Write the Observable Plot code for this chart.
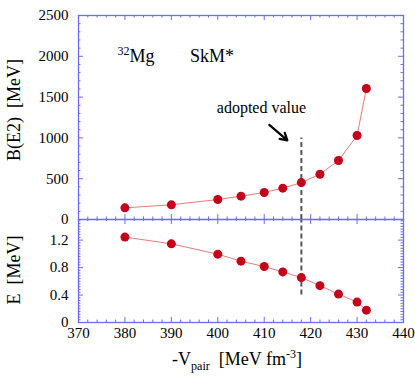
<!DOCTYPE html>
<html><head><meta charset="utf-8">
<script src="https://cdn.jsdelivr.net/npm/d3@7"></script>
<script src="https://cdn.jsdelivr.net/npm/@observablehq/plot@0.6"></script>
<style>
body{margin:0;background:#fff;}
#chart{position:relative;width:415px;height:376px;font-family:'Liberation Serif','Times New Roman','DejaVu Serif',serif;color:#000;}
#chart svg{position:absolute;left:0;}
#chart svg text{font-family:'Liberation Serif','Times New Roman','DejaVu Serif',serif;}
.lbl{position:absolute;font-size:18px;line-height:18px;white-space:pre;}
.rot{transform:translate(-50%,-50%) rotate(-90deg);}
sub,sup{font-size:12px;line-height:0;}
</style></head><body><div id="chart"></div>
<script>
// data
const vpair  = [380, 390, 400, 405, 410, 414, 418, 422, 426, 430, 432];
const be2    = [143, 180, 245, 286, 331, 384, 452, 555, 723, 1029, 1605];
const energy = [1.244, 1.146, 0.995, 0.893, 0.815, 0.737, 0.654, 0.537, 0.414, 0.297, 0.180];
const adoptedV = 418;
const adoptedTopEnd = 1000;     // dashed line top (B(E2) units)
const adoptedBottomEnd = 0.4;   // dashed line bottom (E units)
const arrowFrom = {x: 411.1, y: 1160};
const arrowTo   = {x: 415.0, y: 970};
const adoptedLabel = {x: 409.4, y: 1311, text: "adopted value"};
const nucleusLabel = {x: 381.0, y: 1925, mass: "32", element: "Mg"};
const forceLabel   = {x: 394.0, y: 1925, text: "SkM*"};
const xDomain = [370, 440];
const xMajor = [370, 380, 390, 400, 410, 420, 430, 440];
const topDomain = [0, 2500];
const topMajor = [0, 500, 1000, 1500, 2000, 2500];
const botDomain = [0, 1.5];
const botMajor = [0, 0.4, 0.8, 1.2];

const xMinor = d3.range(370, 440.01, 2).filter(v => v % 10 !== 0);
const topMinor = d3.range(0, 2500.01, 100).filter(v => v % 500 !== 0);
const botMinor = d3.range(0, 60, 1).map(i => +(i * 0.04).toFixed(2)).filter(v => v < 1.5 && Math.round(v * 100) % 40 !== 0);

const rows = vpair.map((v, i) => ({v, b: be2[i], e: energy[i]}));
const FC = "#6b6bff";
const LINE = "#e87a7a";
const DOT = "#c4001a";
const font = "'Liberation Serif', 'Times New Roman', 'DejaVu Serif', serif";
const ML = 78, MR = 12, W = 415, PW = W - ML - MR;

function ticks(dim, anchor, values, size, PH) {
  const o = {stroke: FC, strokeWidth: 1};
  if (dim === "x") {
    if (anchor === "top") o.insetBottom = PH - size; else o.insetTop = PH - size;
    return Plot.tickX(values, {x: d => d, ...o});
  } else {
    if (anchor === "left") o.insetRight = PW - size; else o.insetLeft = PW - size;
    return Plot.tickY(values, {y: d => d, ...o});
  }
}
function labels(dim, anchor, values, pad) {
  const f = dim === "x" ? Plot.axisX : Plot.axisY;
  return f(values, {anchor, tickSize: 0, tickPadding: pad, label: null, fontSize: 15, fontFamily: font, tickFormat: d => String(d), fill: "#000"});
}

const TH = 204;
const topPlot = Plot.plot({
  width: W, height: 219,
  marginLeft: ML, marginRight: MR, marginTop: 15, marginBottom: 0,
  x: {domain: xDomain, axis: null}, y: {domain: topDomain, axis: null},
  style: {fontFamily: font, fontSize: "15px", background: "transparent", overflow: "visible"},
  marks: [
    ticks("x", "top", xMajor, 5, TH), ticks("x", "top", xMinor, 2.5, TH),
    ticks("x", "bottom", xMajor, 5, TH), ticks("x", "bottom", xMinor, 2.5, TH),
    ticks("y", "left", topMajor, 5, TH), ticks("y", "left", topMinor, 2.5, TH),
    ticks("y", "right", topMajor, 5, TH), ticks("y", "right", topMinor, 2.5, TH),
    labels("y", "left", topMajor, 10),
    Plot.frame({stroke: FC, strokeWidth: 1.3}),
    Plot.ruleX([adoptedV], {y1: 0, y2: adoptedTopEnd, stroke: "#555", strokeWidth: 2, strokeDasharray: "5,3"}),
    Plot.line(rows, {x: "v", y: "b", stroke: LINE, strokeWidth: 1}),
    Plot.dot(rows, {x: "v", y: "b", r: 4.5, fill: DOT, stroke: "none"}),
    Plot.arrow([0], {x1: () => arrowFrom.x, y1: () => arrowFrom.y, x2: () => arrowTo.x, y2: () => arrowTo.y, stroke: "#000", strokeWidth: 2.2, headLength: 9}),
    Plot.text([adoptedLabel], {x: "x", y: "y", text: "text", fontSize: 16, fontFamily: font, lineAnchor: "bottom", textAnchor: "middle", fill: "#000"}),
    Plot.text([nucleusLabel], {x: "x", y: "y", text: "mass", fontSize: 12, fontFamily: font, lineAnchor: "bottom", textAnchor: "end", dy: -7, fill: "#000"}),
    Plot.text([nucleusLabel], {x: "x", y: "y", text: "element", fontSize: 18, fontFamily: font, lineAnchor: "bottom", textAnchor: "start", fill: "#000"}),
    Plot.text([forceLabel], {x: "x", y: "y", text: "text", fontSize: 18, fontFamily: font, lineAnchor: "bottom", textAnchor: "start", fill: "#000"})
  ]
});

const BH = 103;
const botPlot = Plot.plot({
  width: W, height: 157,
  marginLeft: ML, marginRight: MR, marginTop: 0, marginBottom: 54,
  x: {domain: xDomain, axis: null}, y: {domain: botDomain, axis: null},
  style: {fontFamily: font, fontSize: "15px", background: "transparent", overflow: "visible"},
  marks: [
    ticks("x", "top", xMajor, 5, BH), ticks("x", "top", xMinor, 2, BH),
    ticks("x", "bottom", xMajor, 5, BH), ticks("x", "bottom", xMinor, 2.5, BH),
    ticks("y", "left", botMajor, 5, BH), ticks("y", "left", botMinor, 2.5, BH),
    ticks("y", "right", botMajor, 5, BH), ticks("y", "right", botMinor, 2.5, BH),
    labels("y", "left", botMajor, 10),
    labels("x", "bottom", xMajor, 5),
    Plot.frame({stroke: FC, strokeWidth: 1.3}),
    Plot.ruleX([adoptedV], {y1: adoptedBottomEnd, y2: botDomain[1], stroke: "#555", strokeWidth: 2, strokeDasharray: "5,3"}),
    Plot.line(rows, {x: "v", y: "e", stroke: LINE, strokeWidth: 1}),
    Plot.dot(rows, {x: "v", y: "e", r: 4.5, fill: DOT, stroke: "none"})
  ]
});

const chart = document.getElementById("chart");
topPlot.style.top = "0px";
botPlot.style.top = "219px";
chart.appendChild(botPlot);
chart.appendChild(topPlot);

function addLabel(html, css, cls) {
  const d = document.createElement("div");
  d.className = "lbl " + (cls || "");
  d.innerHTML = html;
  Object.assign(d.style, css);
  chart.appendChild(d);
}
addLabel("B(E2)  [MeV]", {left: "14px", top: "110px"}, "rot");
addLabel("E  [MeV]", {left: "14px", top: "270px"}, "rot");
addLabel("-V<sub>pair</sub>  [MeV fm<sup>-3</sup>]", {left: "237px", top: "359px", transform: "translate(-50%,-50%)"});
</script></body></html>
